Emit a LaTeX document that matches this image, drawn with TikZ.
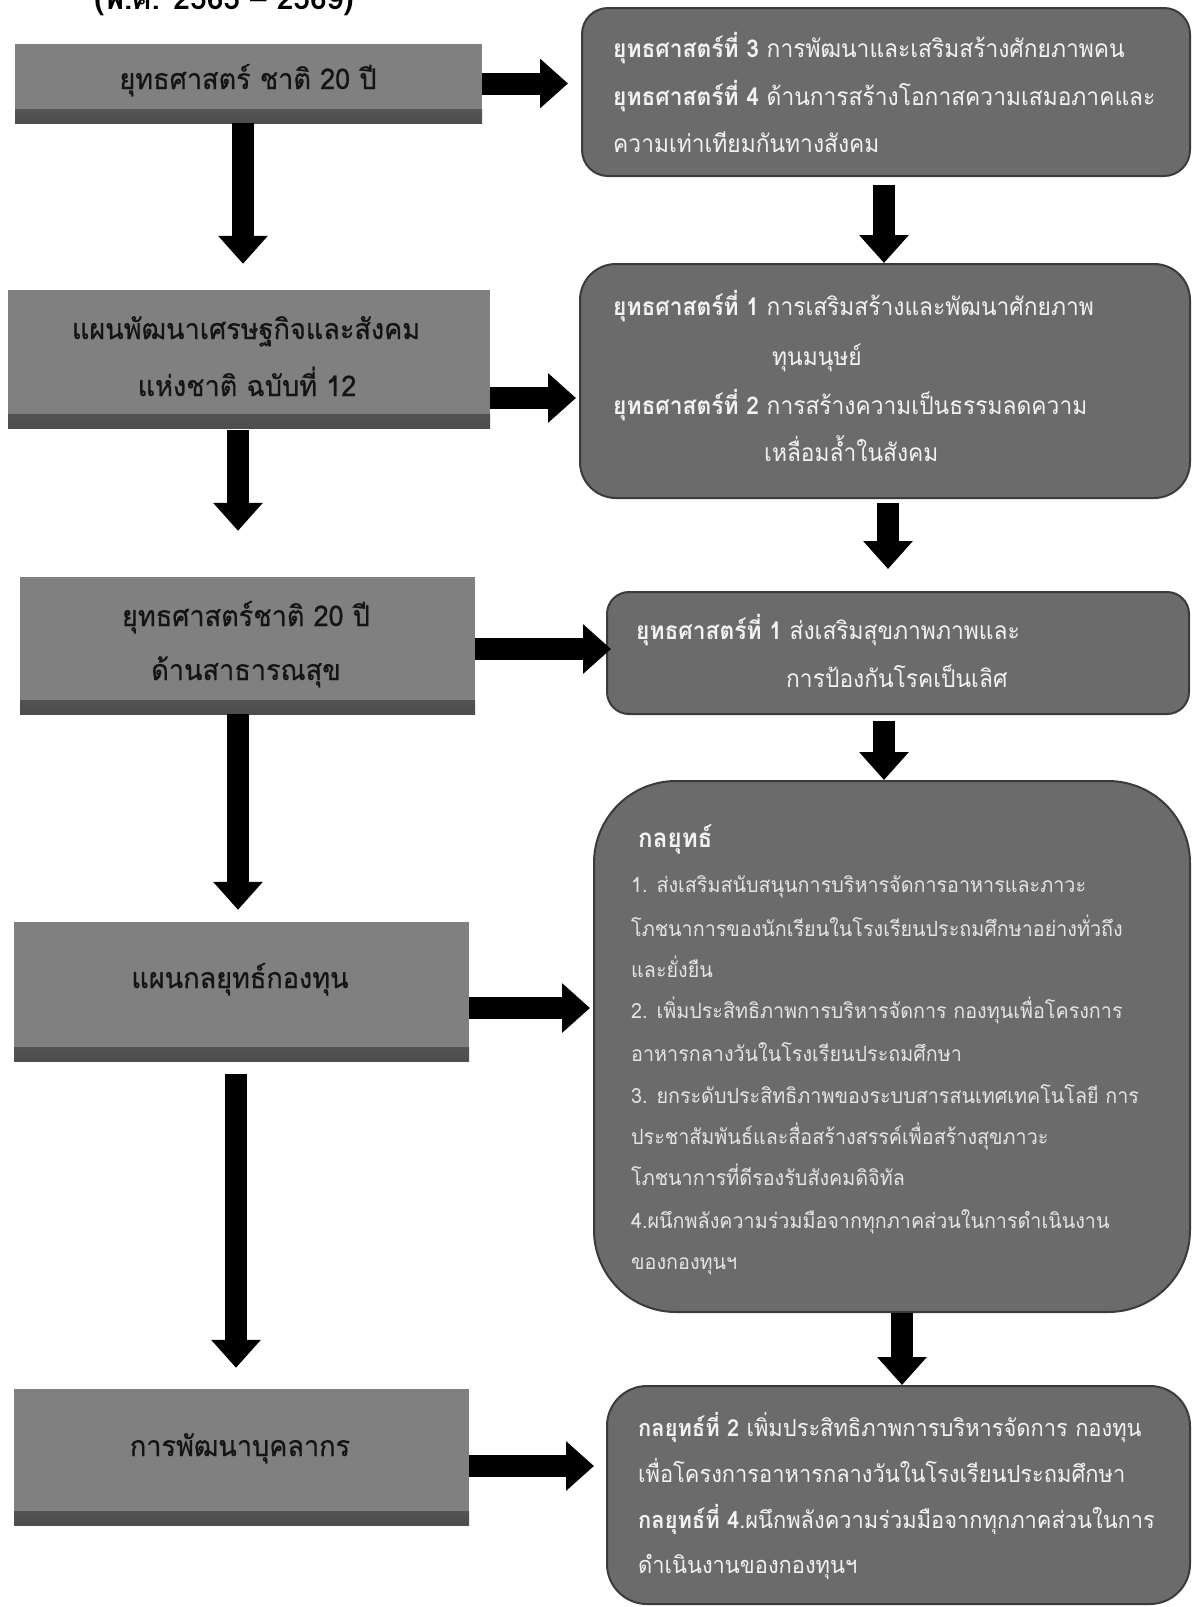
\documentclass[tikz,border=0pt]{standalone}
\usepackage{fontspec}
\setmainfont{Loma}[Script=Thai]
\newfontfamily\lfont{Loma}[Script=Thai, FakeStretch=0.95, FakeBold=0.6]
\newfontfamily\rfont{Loma}[Script=Thai, FakeStretch=0.93]
\newfontfamily\rfourfont{Loma}[Script=Thai, FakeStretch=0.94]
\usetikzlibrary{arrows.meta,calc}
\definecolor{lboxc}{HTML}{808080}
\definecolor{rboxc}{HTML}{6B6B6B}
\definecolor{rtxt}{HTML}{F2F2F2}
\definecolor{r4txt}{HTML}{E4E4E4}
\definecolor{ltxt}{HTML}{141414}
\tikzset{
  lbox/.style={fill=lboxc, inner sep=0pt,
    path picture={\shade[top color=lboxc, bottom color=lboxc!60!black]
      ([yshift=14pt]path picture bounding box.south west) rectangle (path picture bounding box.south east);}},
  rbox/.style={fill=rboxc, draw=rboxc!55!black, line width=2pt, inner sep=0pt},
  ltext/.style={anchor=base, inner sep=0pt, text=ltxt, font=\lfont\fontsize{28.5}{34}\selectfont},
  rtext/.style={anchor=base west, inner sep=0pt, text=rtxt, font=\rfont\fontsize{24.5}{30}\selectfont},
  r5text/.style={anchor=base west, inner sep=0pt, text=rtxt, font=\rfont\fontsize{23.5}{30}\selectfont},
  r4text/.style={anchor=base west, inner sep=0pt, text=r4txt, font=\rfourfont\fontsize{21}{26}\selectfont},
  bigarrow/.style={line width=22pt, -{Triangle[length=28pt,width=48pt]}, black}
}
\begin{document}
\begin{tikzpicture}[x=1pt,y=-1pt]
\useasboundingbox (0,0) rectangle (1192,1607);
\fill[white] (0,0) rectangle (1192,1607);

% clipped heading
\node[anchor=base, inner sep=0pt, text=black, font=\fontsize{30}{34}\selectfont\bfseries] (head) at (224,9) {(พ.ศ. 2565 – 2569)};

% left boxes
\node[lbox, minimum width=467pt, minimum height=79pt] (b1) at (248.5,83.5) {};
\node[lbox, minimum width=482pt, minimum height=138pt] (b2) at (249,359) {};
\node[lbox, minimum width=455pt, minimum height=137pt] (b3) at (247.5,645.5) {};
\node[lbox, minimum width=455pt, minimum height=139pt] (b4) at (241.5,991.5) {};
\node[lbox, minimum width=455pt, minimum height=136pt] (b5) at (241.5,1457) {};

\node[ltext] (t1) at (248,89) {ยุทธศาสตร์ ชาติ 20 ปี};
\node[ltext] (t2a) at (246,339) {แผนพัฒนาเศรษฐกิจและสังคม};
\node[ltext] (t2b) at (247,396) {แห่งชาติ ฉบับที่ 12};
\node[ltext] (t3a) at (246,626) {ยุทธศาสตร์ชาติ 20 ปี};
\node[ltext] (t3b) at (246,680) {ด้านสาธารณสุข};
\node[ltext] (t4) at (240,988) {แผนกลยุทธ์กองทุน};
\node[ltext] (t5) at (240,1456) {การพัฒนาบุคลากร};

% right boxes
\node[rbox, rounded corners=26pt, minimum width=608pt, minimum height=168pt] (r1) at (886,92) {};
\node[rbox, rounded corners=36pt, minimum width=610pt, minimum height=234pt] (r2) at (885,381) {};
\node[rbox, rounded corners=22pt, minimum width=582pt, minimum height=122pt] (r3) at (898,653) {};
\node[rbox, rounded corners=82pt, minimum width=596pt, minimum height=531pt] (r4) at (892,1046.5) {};
\node[rbox, rounded corners=40pt, minimum width=583pt, minimum height=218pt] (r5) at (898.5,1495) {};

\node[rtext] (r1a) at (613,57) {\textbf{ยุทธศาสตร์ที่ 3} การพัฒนาและเสริมสร้างศักยภาพคน};
\node[rtext] (r1b) at (613,105) {\textbf{ยุทธศาสตร์ที่ 4} ด้านการสร้างโอกาสความเสมอภาคและ};
\node[rtext] (r1c) at (613,152) {ความเท่าเทียมกันทางสังคม};

\node[rtext] (r2a) at (613,315) {\textbf{ยุทธศาสตร์ที่ 1} การเสริมสร้างและพัฒนาศักยภาพ};
\node[rtext] (r2b) at (772,365) {ทุนมนุษย์};
\node[rtext] (r2c) at (613,414) {\textbf{ยุทธศาสตร์ที่ 2} การสร้างความเป็นธรรมลดความ};
\node[rtext] (r2d) at (764,461) {เหลื่อมล้ำในสังคม};

\node[rtext] (r3a) at (636,639) {\textbf{ยุทธศาสตร์ที่ 1} ส่งเสริมสุขภาพภาพและ};
\node[rtext] (r3b) at (786,687) {การป้องกันโรคเป็นเลิศ};

\node[rtext, font=\rfont\fontsize{26}{30}\selectfont\bfseries] (r4h) at (638,847) {กลยุทธ์};
\node[r4text] (r4a) at (631,892) {1. ส่งเสริมสนับสนุนการบริหารจัดการอาหารและภาวะ};
\node[r4text] (r4b) at (631,936) {โภชนาการของนักเรียนในโรงเรียนประถมศึกษาอย่างทั่วถึง};
\node[r4text] (r4c) at (631,977) {และยั่งยืน};
\node[r4text] (r4d) at (631,1018) {2. เพิ่มประสิทธิภาพการบริหารจัดการ กองทุนเพื่อโครงการ};
\node[r4text] (r4e) at (631,1061) {อาหารกลางวันในโรงเรียนประถมศึกษา};
\node[r4text] (r4f) at (631,1103) {3. ยกระดับประสิทธิภาพของระบบสารสนเทศเทคโนโลยี การ};
\node[r4text] (r4g) at (631,1144) {ประชาสัมพันธ์และสื่อสร้างสรรค์เพื่อสร้างสุขภาวะ};
\node[r4text] (r4h2) at (631,1185) {โภชนาการที่ดีรองรับสังคมดิจิทัล};
\node[r4text] (r4i) at (631,1228) {4.ผนึกพลังความร่วมมือจากทุกภาคส่วนในการดำเนินงาน};
\node[r4text] (r4j) at (631,1269) {ของกองทุนฯ};

\node[r5text] (r5a) at (638,1436) {\textbf{กลยุทธ์ที่ 2} เพิ่มประสิทธิภาพการบริหารจัดการ กองทุน};
\node[r5text] (r5b) at (638,1482) {เพื่อโครงการอาหารกลางวันในโรงเรียนประถมศึกษา};
\node[r5text] (r5c) at (638,1528) {\textbf{กลยุทธ์ที่ 4}.ผนึกพลังความร่วมมือจากทุกภาคส่วนในการ};
\node[r5text] (r5d) at (638,1573) {ดำเนินงานของกองทุนฯ};

% connectors
\draw[bigarrow, shorten >=13pt] (b1.east) -- (b1.east -| r1.west);
\draw[bigarrow, shorten >=26pt] ($(b1.south)+(-5.5,0)$) -- ($(b1.south |- b2.north)+(-5.5,0)$);
\draw[bigarrow, shorten <=8pt] ($(r1.south)+(-2,0)$) -- ($(r1.south |- r2.north)+(-2,0)$);
\draw[bigarrow, shorten >=3pt] ($(b2.east)+(0,39)$) -- ($(b2.east -| r2.west)+(0,39)$);
\draw[bigarrow, shorten <=2pt, shorten >=46pt] ($(b2.south)+(-11,0)$) -- ($(b2.south |- b3.north)+(-11,0)$);
\draw[bigarrow, shorten <=4pt, shorten >=22pt] ($(r2.south)+(3,0)$) -- ($(r2.south |- r3.north)+(3,0)$);
\draw[bigarrow, shorten >=-5pt] ($(b3.east)+(0,3.5)$) -- ($(b3.east -| r3.west)+(0,3.5)$);
\draw[bigarrow, shorten >=12pt] ($(b3.south)+(-9.5,0)$) -- ($(b3.south |- b4.north)+(-9.5,0)$);
\draw[bigarrow, shorten <=6pt] ($(r3.south)+(-14,0)$) -- ($(r3.south |- r4.north)+(-14,0)$);
\draw[bigarrow, shorten >=3pt] ($(b4.east)+(0,16.5)$) -- ($(b4.east -| r4.west)+(0,16.5)$);
\draw[bigarrow, shorten <=13pt, shorten >=21pt] ($(b4.south)+(-5.5,0)$) -- ($(b4.south |- b5.north)+(-5.5,0)$);
\draw[bigarrow] ($(r4.south)+(10,0)$) -- ($(r4.south |- r5.north)+(10,0)$);
\draw[bigarrow, shorten >=12pt] ($(b5.east)+(0,9)$) -- ($(b5.east -| r5.west)+(0,9)$);
\end{tikzpicture}
\end{document}
